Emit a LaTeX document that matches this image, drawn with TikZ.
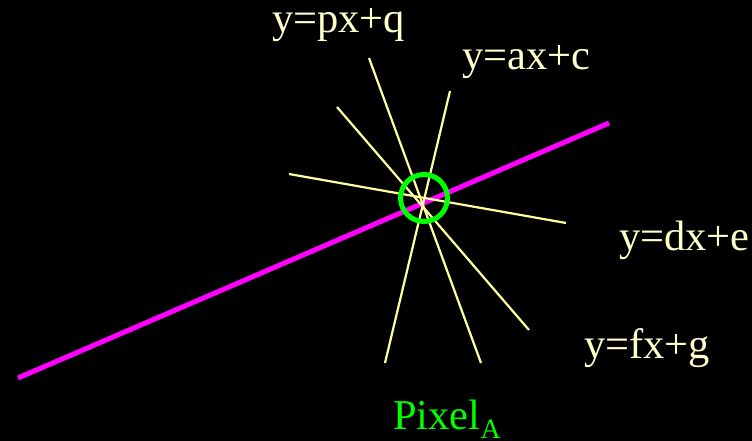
\documentclass[tikz,border=0pt]{standalone}
\usepackage{fontspec}
\setmainfont{Liberation Serif}
\definecolor{labelyellow}{RGB}{255,255,204}
\definecolor{lineyellow}{RGB}{255,255,160}
\definecolor{pixgreen}{RGB}{0,255,0}
\definecolor{linemag}{RGB}{255,0,255}
\begin{document}
\begin{tikzpicture}[x=1pt,y=-1pt,
  eqlabel/.style={inner sep=0pt,anchor=base west,text=labelyellow,font=\fontsize{42.5}{42.5}\selectfont},
  ray/.style={draw=lineyellow,line width=2.2pt},
  pixring/.style={circle,draw=pixgreen,line width=5pt,minimum size=47pt,inner sep=0pt}]
\fill[black] (0,0) rectangle (752,441);
\useasboundingbox (0,0) rectangle (752,441);
% magenta line
\coordinate (m1) at (18,378);
\coordinate (m2) at (609,123);
\draw[draw=linemag,line width=5pt] (m1) -- (m2);
% yellow rays
\coordinate (r1a) at (369,58);  \coordinate (r1b) at (481,363);
\coordinate (r2a) at (337,107); \coordinate (r2b) at (529,330);
\coordinate (r3a) at (289,174); \coordinate (r3b) at (566,223);
\coordinate (r4a) at (450,91);  \coordinate (r4b) at (385,363);
\draw[ray] (r1a) -- (r1b);
\draw[ray] (r2a) -- (r2b);
\draw[ray] (r3a) -- (r3b);
\draw[ray] (r4a) -- (r4b);
% pixel ring
\node[pixring] (pix) at (424,198) {};
% labels
\node[eqlabel] (lpq) at (272,33) {y=px+q};
\node[eqlabel] (lac) at (462,70) {y=ax+c};
\node[eqlabel] (lde) at (619,250) {y=dx+e};
\node[eqlabel] (lfg) at (584,358) {y=fx+g};
\node[inner sep=0pt,anchor=base west,text=pixgreen,font=\fontsize{42.5}{42.5}\selectfont] (lpix) at (393,429)
  {Pixel\raisebox{-9pt}{\fontsize{28}{28}\selectfont A}};
\end{tikzpicture}
\end{document}
